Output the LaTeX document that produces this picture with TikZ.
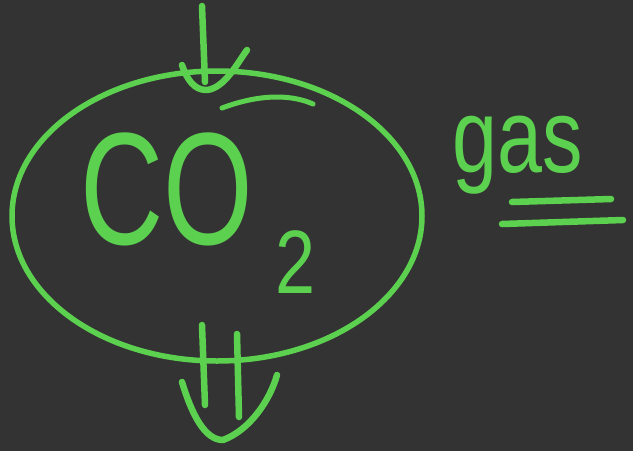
\documentclass[tikz,border=0pt]{standalone}
\usepackage{fontspec}
\setmainfont{Liberation Sans}
\definecolor{bg}{HTML}{333333}
\definecolor{chalk}{HTML}{5CD150}
\begin{document}
\begin{tikzpicture}[x=1pt,y=-1pt,
  pen/.style={draw=chalk,line width=6.5pt,line cap=round,line join=round},
  txt/.style={text=chalk,inner sep=0pt,anchor=base west}]
\fill[bg] (0,0) rectangle (633,451);
\useasboundingbox (0,0) rectangle (633,451);
% big ellipse
\draw[pen,line width=5.5pt] (217,216) ellipse [x radius=205, y radius=145];
\draw[pen,line width=5pt] (222,108) .. controls (265,92) and (295,96) .. (313,104);
% top arrow
\coordinate (t0) at (202,6);
\coordinate (t1) at (205,82);
\draw[pen] (t0) -- (t1);
\coordinate (a0) at (182,65);
\coordinate (a1) at (207,90);
\coordinate (a2) at (247,50);
\draw[pen] (a0) .. controls (190,88) and (200,90) .. (a1) .. controls (225,88) and (238,62) .. (a2);
% bottom double arrow
\coordinate (b0) at (202,325);
\coordinate (b1) at (205,405);
\coordinate (b2) at (237,334);
\coordinate (b3) at (239,417);
\draw[pen] (b0) -- (b1);
\draw[pen] (b2) -- (b3);
\coordinate (v0) at (182,382);
\coordinate (v1) at (223,440);
\coordinate (v2) at (277,375);
\draw[pen] (v0) .. controls (192,415) and (205,440) .. (v1) .. controls (250,430) and (270,400) .. (v2);
% text
\node[txt,xscale=0.72] (co) at (80,244) {\fontsize{160}{160}\selectfont CO};
\node[txt,xscale=0.8] (two) at (275,293) {\fontsize{90}{90}\selectfont 2};
\node[txt,xscale=0.77] (gas) at (452,172) {\fontsize{105}{105}\selectfont gas};
% double underline
\coordinate (u0) at (512,202);
\coordinate (u1) at (611,199);
\coordinate (u2) at (502,224);
\coordinate (u3) at (623,220);
\draw[pen] (u0) -- (u1);
\draw[pen] (u2) -- (u3);
\end{tikzpicture}
\end{document}
